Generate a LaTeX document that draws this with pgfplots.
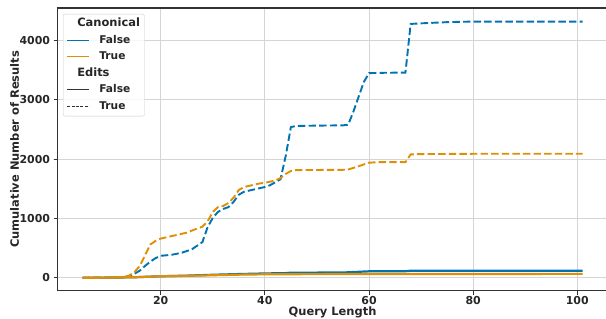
\documentclass[border=0pt]{standalone}
\usepackage{fontspec}
\setmainfont{DejaVu Sans}
\usepackage{pgfplots}
\pgfplotsset{compat=1.18}
\definecolor{cblue}{HTML}{0173B2}
\definecolor{corange}{HTML}{DE8F05}
\definecolor{txt}{HTML}{262626}
\definecolor{gridc}{HTML}{D5D5D5}
\definecolor{spine}{HTML}{333333}
\definecolor{edge}{HTML}{CCCCCC}

\begin{document}
\begin{tikzpicture}
\begin{axis}[
  name=ax,
  scale only axis,
  width=549.9bp, height=282.5bp,
  xmin=0.2, xmax=105.8, ymin=-217, ymax=4547,
  xtick={20,40,60,80,100}, ytick={0,1000,2000,3000,4000},
  grid=major, grid style={gridc, line width=0.9bp},
  axis line style={draw=none},
  tick align=outside, xtick pos=bottom, ytick pos=left,
  major tick length=4bp,
  every tick/.style={spine, line width=0.9bp},
  tick label style={font=\fontsize{11}{13}\selectfont\bfseries, text=txt},
  xticklabel style={inner ysep=0pt, yshift=-1.5bp},
  /pgf/number format/assume math mode=true,
  /pgf/number format/1000 sep={},
  scaled ticks=false,
  xlabel={Query Length}, ylabel={Cumulative Number of Results},
  every axis x label/.style={at={(axis description cs:0.5,0)}, anchor=base, yshift=-24.6bp,
    inner ysep=0pt, font=\fontsize{11.5}{13}\selectfont\bfseries, text=txt},
  every axis y label/.style={at={(axis description cs:-0.0782,0.5)}, anchor=center, rotate=90,
    font=\fontsize{11.5}{13}\selectfont\bfseries, text=txt},
  legend cell align=left,
  legend image code/.code={\draw[#1] (0bp,0bp) -- (22bp,0bp);},
  legend style={at={(0,1)}, anchor=north west, xshift=5.4bp, yshift=-5.9bp,
    draw=edge, rounded corners=2bp, fill=white, fill opacity=0.8, text opacity=1,
    inner xsep=3.5bp, inner ysep=1.5bp, column sep=8.5bp,
    font=\fontsize{10.7}{12}\selectfont\bfseries, text=txt,
    nodes={inner ysep=3bp, inner xsep=1bp, text height=8bp, text depth=2.5bp}},
]
% Canonical False, Edits False
\addplot[cblue, line width=2.2bp, forget plot] coordinates {
(5,0) (10,2) (15,8) (17,15) (20,25) (25,35) (30,50) (35,62) (40,72) (44,78) (45,85) (55,88) (58,100) (60,108) (67,110) (68,118) (101,118)};
% Canonical False, Edits True
\addplot[cblue, line width=1.9bp, dash pattern=on 7.4bp off 3.2bp, forget plot] coordinates {
(5,0) (10,2) (13,8) (14,20) (15,70) (16,120) (17,200) (18,270) (19,330) (20,370) (22,385) (24,420) (25,450) (26,480) (27,540) (28,600) (29,850) (30,1010) (31,1110) (32,1160) (33,1190) (34,1280) (35,1400) (36,1450) (38,1490) (40,1530) (41,1560) (42,1610) (43,1660) (44,2050) (45,2540) (46,2560) (50,2565) (55,2570) (56,2580) (57,2800) (58,3050) (59,3300) (60,3450) (62,3455) (67,3460) (68,4280) (70,4290) (75,4310) (80,4320) (101,4320)};
% Canonical True, Edits False
\addplot[corange, line width=2.2bp, forget plot] coordinates {
(5,0) (10,2) (15,8) (17,15) (20,25) (25,32) (30,42) (35,52) (40,58) (45,60) (60,63) (101,65)};
% Canonical True, Edits True
\addplot[corange, line width=1.9bp, dash pattern=on 7.4bp off 3.2bp, forget plot] coordinates {
(5,0) (10,3) (13,15) (14,40) (15,100) (16,200) (17,380) (18,560) (19,620) (20,660) (22,700) (25,760) (27,830) (28,860) (29,950) (30,1110) (31,1190) (32,1210) (33,1260) (34,1350) (35,1480) (36,1530) (38,1570) (39,1590) (40,1600) (42,1640) (43,1680) (44,1750) (45,1800) (46,1815) (55,1820) (56,1825) (58,1880) (60,1940) (62,1950) (67,1950) (68,2080) (70,2085) (80,2090) (101,2090)};

\addlegendimage{empty legend}
\addlegendentry{\hspace*{-22bp}\fontsize{11.5}{12}\selectfont Canonical}
\addlegendimage{cblue, line width=1.1bp}
\addlegendentry{False}
\addlegendimage{corange, line width=1.1bp}
\addlegendentry{True}
\addlegendimage{empty legend}
\addlegendentry{\hspace*{-22bp}\fontsize{11.5}{12}\selectfont Edits}
\addlegendimage{spine, line width=1.1bp}
\addlegendentry{False}
\addlegendimage{spine, line width=1.1bp, dash pattern=on 3bp off 1.4bp}
\addlegendentry{True}
\end{axis}
\draw[spine, line width=1.2bp] (ax.south east) -- (ax.south west) -- (ax.north west) -- (ax.north east);
\pgfresetboundingbox
\useasboundingbox ([shift={(-57.6bp,-28.4bp)}]ax.south west) rectangle ([shift={(-1.5bp,8.1bp)}]ax.north east);
\end{tikzpicture}
\end{document}
